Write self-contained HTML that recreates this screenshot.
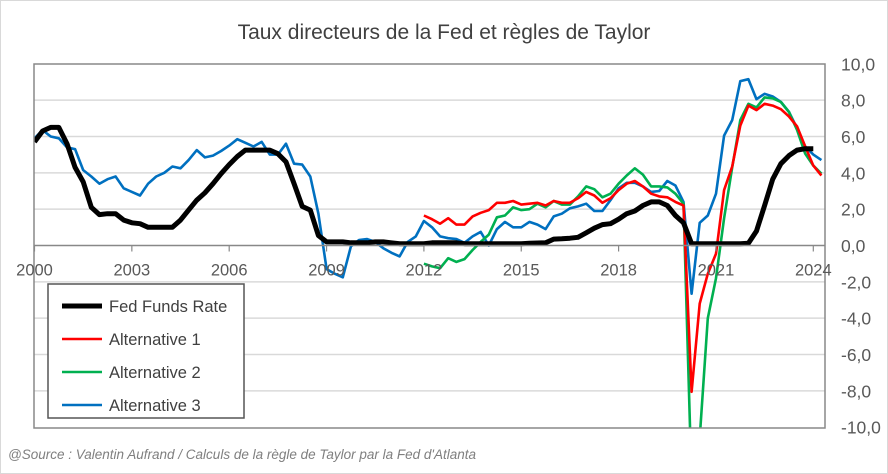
<!DOCTYPE html>
<html><head><meta charset="utf-8"><style>
body{margin:0;background:#fff;}
svg{display:block;font-family:"Liberation Sans",sans-serif;}
</style></head><body>
<svg id="chart" width="888" height="474">
<rect x="0.5" y="0.5" width="887" height="473" fill="#fff" stroke="#d9d9d9"/>
<text x="444" y="39" text-anchor="middle" font-size="21" fill="#404040">Taux directeurs de la Fed et règles de Taylor</text>
<g id="grid"></g>
<g id="series"></g>
<rect x="34" y="64" width="791" height="364" fill="none" stroke="#888" stroke-width="1.5"/>
<g id="axes"></g>
<g>
<rect x="48" y="284" width="196" height="134" fill="#fff" stroke="#555" stroke-width="1.5"/>
<g id="legend"></g>
</g>
<text x="8" y="459" font-size="13.5" font-style="italic" fill="#7f7f7f">@Source : Valentin Aufrand / Calculs de la règle de Taylor par la Fed d'Atlanta</text>
</svg>
<script>
const yTicks=[10,8,6,4,2,0,-2,-4,-6,-8,-10];
const yearLabels=[2000,2003,2006,2009,2012,2015,2018,2021,2024];
const seriesNames=["Fed Funds Rate","Alternative 1","Alternative 2","Alternative 3"];
// quarterly, 2000Q1 onward
const fedFunds=[5.7,6.3,6.5,6.5, 5.6,4.3,3.5,2.1, 1.7,1.75,1.75,1.4, 1.25,1.2,1.0,1.0, 1.0,1.0,1.4,1.95,
2.5,2.9,3.4,3.95, 4.45,4.9,5.25,5.25, 5.25,5.25,5.05,4.6, 3.4,2.15,1.95,0.55,
0.2,0.2,0.2,0.15, 0.15,0.15,0.2,0.2, 0.15,0.1,0.1,0.1, 0.1,0.15,0.15,0.15, 0.15,0.1,0.1,0.1,
0.1,0.1,0.1,0.1, 0.1,0.12,0.14,0.15, 0.35,0.37,0.4,0.45, 0.7,0.95,1.15,1.2, 1.45,1.75,1.9,2.2,
2.4,2.4,2.2,1.65, 1.25,0.1,0.1,0.1, 0.1,0.1,0.1,0.1, 0.12,0.8,2.2,3.65, 4.5,4.95,5.25,5.33, 5.33];
const alt3=[5.9,6.35,6.0,5.9, 5.4,5.3,4.15,3.8, 3.4,3.65,3.8,3.15, 2.95,2.75,3.4,3.8, 4.0,4.35,4.25,4.7,
5.25,4.85,4.95,5.2, 5.5,5.85,5.65,5.45, 5.7,5.0,5.0,5.6, 4.5,4.45,3.8,1.75,
-1.3,-1.55,-1.75,-0.05, 0.3,0.35,0.2,-0.15, -0.4,-0.6,0.2,0.5,
1.35,1.0,0.5,0.4, 0.35,0.15,0.5,0.75, 0.0,0.9,1.3,1.0, 1.0,1.3,1.15,0.9, 1.6,1.75,2.05,2.15,
2.3,1.9,1.9,2.5, 3.15,3.45,3.45,3.25, 2.95,3.0,3.55,3.3, 2.4,-2.65,1.25,1.65, 2.85,6.05,6.9,9.05,
9.15,8.05,8.35,8.2, 7.9,7.35,6.45,5.45, 5.0,4.7];
const alt1=[1.65,1.45,1.2,1.5, 1.15,1.15,1.6,1.8, 1.95,2.35,2.35,2.45, 2.25,2.3,2.35,2.2, 2.45,2.35,2.35,2.6,
2.95,2.75,2.35,2.6, 3.05,3.4,3.55,3.25, 2.85,2.7,2.65,2.4, 2.2,-8.05,-3.2,-1.55, -0.45,3.05,4.35,6.6,
7.7,7.45,7.8,7.7, 7.5,7.1,6.55,5.45, 4.4,3.85];
const alt2=[-1.0,-1.15,-1.25,-0.7, -0.9,-0.75,-0.25,0.2, 0.6,1.55,1.65,2.1, 1.95,2.0,2.3,2.1, 2.45,2.25,2.25,2.7,
3.25,3.1,2.65,2.85, 3.4,3.85,4.25,3.9, 3.25,3.25,3.2,2.85, 2.3,-13,-10.6,-4.0, -1.8,1.5,4.3,6.9,
7.8,7.6,8.15,8.1, 7.9,7.35,6.35,5.05, 4.4,3.95];
const startIdx=[0,48,48,0];
const colors=["#000","#ff0000","#00b050","#0070c0"];
const widths=[5,2.6,2.6,2.6];

const NS="http://www.w3.org/2000/svg";
const X0=34.5, PX_YR=32.45, PL=34, PR=825, PT=64, PB=428;
const xq=i=>X0+i*PX_YR/4;
const xYear=y=>X0+(y-2000)*PX_YR;
const yv=v=>245.5-v*18.17;
function mk(tag,parent){const e=document.createElementNS(NS,tag);parent.appendChild(e);return e;}
const grid=document.getElementById('grid'), axes=document.getElementById('axes'), ser=document.getElementById('series');
yTicks.forEach(t=>{
  if(t!==0&&t!==10&&t!==-10){const l=mk('line',grid);
  
  
  l.setAttribute('x1',PL);l.setAttribute('x2',PR);l.setAttribute('y1',yv(t));l.setAttribute('y2',yv(t));
  l.setAttribute('stroke','#d9d9d9');l.setAttribute('stroke-width','1.5');}
  const tx=mk('text',axes);
  
  
  tx.setAttribute('x',841);tx.setAttribute('y',yv(t)+6.5);tx.setAttribute('font-size','17.5');tx.setAttribute('fill','#595959');
  tx.textContent=t.toFixed(1).replace('.',',');
});
const zl=mk('line',axes);


zl.setAttribute('x1',PL);zl.setAttribute('x2',PR);zl.setAttribute('y1',yv(0));zl.setAttribute('y2',yv(0));
zl.setAttribute('stroke','#888');zl.setAttribute('stroke-width','1.5');
yearLabels.forEach(y=>{
  const t=mk('line',axes);
  
  
  t.setAttribute('x1',xYear(y));t.setAttribute('x2',xYear(y));t.setAttribute('y1',yv(0));t.setAttribute('y2',yv(0)+6);
  t.setAttribute('stroke','#888');t.setAttribute('stroke-width','1.2');
  const tx=mk('text',axes);
  
  
  tx.setAttribute('x',xYear(y));tx.setAttribute('y',yv(0)+30);tx.setAttribute('text-anchor','middle');
  tx.setAttribute('font-size','16.5');tx.setAttribute('fill','#595959');tx.textContent=y;
});
const cp=mk('clipPath',ser);cp.setAttribute('id','clip');
const cr=mk('rect',cp);cr.setAttribute('x',PL);cr.setAttribute('y',PT);cr.setAttribute('width',PR-PL);cr.setAttribute('height',PB-PT);
const data=[fedFunds,alt1,alt2,alt3];
[3,2,1,0].forEach(k=>{
  const p=mk('polyline',ser);
  
  
  p.setAttribute('points',data[k].map((v,i)=>xq(i+startIdx[k]).toFixed(1)+','+yv(v).toFixed(1)).join(' '));
  p.setAttribute('fill','none');p.setAttribute('stroke',colors[k]);p.setAttribute('stroke-width',widths[k]);
  p.setAttribute('stroke-linejoin','round');p.setAttribute('clip-path','url(#clip)');
});
const lg=document.getElementById('legend');
seriesNames.forEach((n,k)=>{
  const y=306+k*33;
  const l=mk('line',lg);
  
  
  l.setAttribute('x1',62);l.setAttribute('x2',102);l.setAttribute('y1',y);l.setAttribute('y2',y);
  l.setAttribute('stroke',colors[k]);l.setAttribute('stroke-width',k===0?5:2.6);
  const t=mk('text',lg);
  
  
  t.setAttribute('x',109);t.setAttribute('y',y+6);t.setAttribute('font-size','16.5');t.setAttribute('fill','#404040');
  t.textContent=n;
});
</script>
</body></html>
